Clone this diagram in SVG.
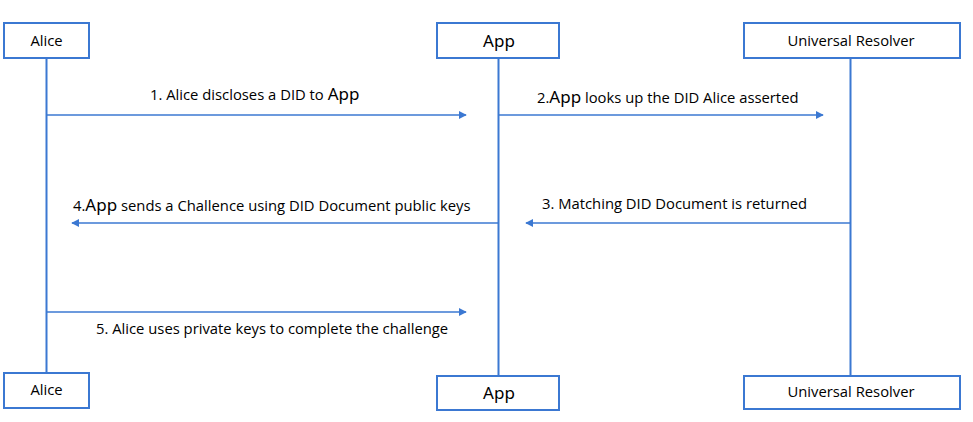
<svg xmlns="http://www.w3.org/2000/svg" width="973" height="422" viewBox="0 0 973 422">
<style>
.box{fill:#fff;stroke:#3b78d2;stroke-width:2}
.life{stroke:#3b78d2;stroke-width:2;fill:none}
.msg{stroke:#3b78d2;stroke-width:1.6;fill:none}
.t{font-family:"Open Sans","Noto Sans",sans-serif;font-size:14.8px;fill:#000}
.big{font-family:"Noto Sans","Open Sans",sans-serif;font-size:17px;fill:#000}
.lbl{font-family:"Open Sans","Noto Sans",sans-serif;font-size:14.8px;fill:#000}
.app{font-family:"Noto Sans",sans-serif;font-size:17px}
</style>
<defs>
<marker id="ah" viewBox="0 0 10 10" refX="9" refY="5" markerWidth="5" markerHeight="5" orient="auto" markerUnits="strokeWidth">
<path d="M0,0 L10,5 L0,10 z" fill="#3b78d2"/>
</marker>
</defs>
<g id="lifelines">
<line class="life" x1="46.5" y1="58" x2="46.5" y2="373"/>
<line class="life" x1="498.5" y1="58" x2="498.5" y2="376"/>
<line class="life" x1="850.5" y1="58" x2="850.5" y2="376"/>
</g>
<g id="alice-top"><rect class="box" x="4" y="23" width="85" height="35"/><text class="t" x="46.5" y="45.5" text-anchor="middle">Alice</text></g>
<g id="app-top"><rect class="box" x="437" y="23" width="122" height="35"/><text class="big" x="499" y="47" text-anchor="middle">App</text></g>
<g id="resolver-top"><rect class="box" x="744" y="23" width="216" height="35"/><text class="t" x="851" y="45.5" text-anchor="middle">Universal Resolver</text></g>
<g id="alice-bottom"><rect class="box" x="4" y="373" width="85" height="35"/><text class="t" x="46.5" y="394.5" text-anchor="middle">Alice</text></g>
<g id="app-bottom"><rect class="box" x="437" y="376" width="122" height="34"/><text class="big" x="499" y="399" text-anchor="middle">App</text></g>
<g id="resolver-bottom"><rect class="box" x="744" y="376" width="216" height="33"/><text class="t" x="851" y="397" text-anchor="middle">Universal Resolver</text></g>
<g id="connectors">
<line class="msg" x1="47" y1="115" x2="466" y2="115" marker-end="url(#ah)"/>
<line class="msg" x1="499" y1="115" x2="823" y2="115" marker-end="url(#ah)"/>
<line class="msg" x1="850" y1="223" x2="526" y2="223" marker-end="url(#ah)"/>
<line class="msg" x1="498" y1="223" x2="72" y2="223" marker-end="url(#ah)"/>
<line class="msg" x1="47" y1="312" x2="466" y2="312" marker-end="url(#ah)"/>
</g>
<g id="labels">
<text class="lbl" x="150" y="100">1. Alice discloses a DID to <tspan class="app">App</tspan></text>
<text class="lbl" x="537" y="103">2.<tspan class="app">App</tspan> looks up the DID Alice asserted</text>
<text class="lbl" x="542" y="209">3. Matching DID Document is returned</text>
<text class="lbl" x="73" y="211">4.<tspan class="app">App</tspan> sends a Challence using DID Document public keys</text>
<text class="lbl" x="96" y="334">5. Alice uses private keys to complete the challenge</text>
</g>
</svg>
